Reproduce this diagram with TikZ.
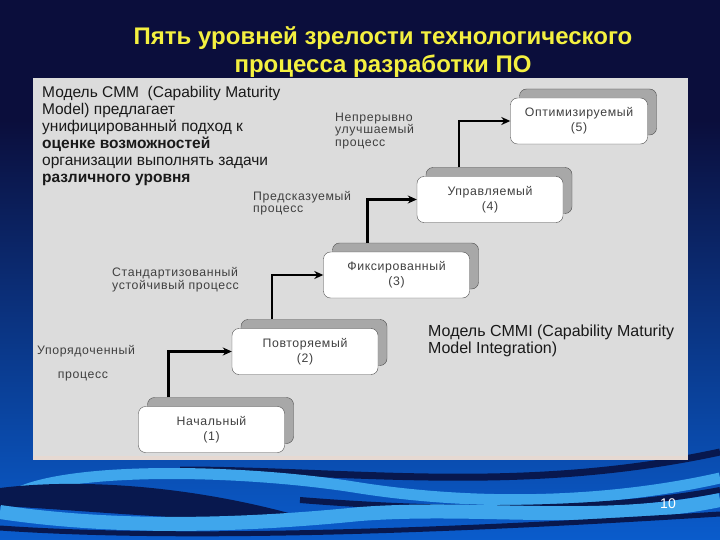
\documentclass[tikz,border=0pt]{standalone}
\usepackage{fontspec}
\setmainfont{Liberation Sans}
\newfontfamily\lblfont[LetterSpace=5]{Liberation Sans}
\usetikzlibrary{arrows.meta,positioning,shadows}
\definecolor{bgnavy}{HTML}{0B0E3C}
\definecolor{bgblue}{HTML}{0A5CCC}
\definecolor{wavelight}{HTML}{3FA6EC}
\definecolor{wavedark}{HTML}{08184E}
\definecolor{panelgrey}{HTML}{DCDCDC}
\definecolor{panelrim}{HTML}{E6D9D2}
\definecolor{titleyellow}{HTML}{F4F040}
\definecolor{cardgrey}{HTML}{A8A8A8}

\begin{document}
\begin{tikzpicture}[x=1pt, y=-1pt, >=Stealth,
  lvl/.style={draw=black!70, fill=white, rounded corners=7pt,
    minimum width=146pt, minimum height=46pt, align=center,
    font=\lblfont\fontsize{12.3}{15}\selectfont, text=black!75,
    copy shadow={shadow xshift=9pt, shadow yshift=9pt, fill=cardgrey, draw=black!70}},
  flow/.style={-{Stealth[length=9pt,width=8pt]}, line width=2.6pt},
  lbl/.style={font=\lblfont\fontsize{12.3}{12.5}\selectfont, text=black!75,
    align=left, inner sep=0pt},
  note/.style={font=\fontsize{15.5}{17}\selectfont, text=black!90,
    align=left, inner sep=0pt}]
\useasboundingbox (0,0) rectangle (720,540);
% backdrop
\fill[bgnavy] (0,0) rectangle (720,540);
\shade[top color=bgnavy, bottom color=bgblue] (0,120) rectangle (720,540);
% waves
\draw[wavedark, line width=7pt] (180,470) .. controls (350,470) and (520,495) .. (720,452);
\draw[wavelight, line width=11pt] (20,492) .. controls (80,466) and (250,470) .. (360,488)
  .. controls (470,505) and (600,505) .. (720,478);
\draw[wavedark, line width=6pt] (300,500) .. controls (450,512) and (600,512) .. (720,490);
\fill[wavedark] (0,488) .. controls (80,478) and (200,485) .. (320,522)
  .. controls (200,522) and (80,510) .. (0,506) -- cycle;
\draw[wavelight, line width=14pt] (0,512) .. controls (120,530) and (250,525) .. (360,514)
  .. controls (480,505) and (600,525) .. (720,500);
\draw[wavedark, line width=5pt] (0,528) .. controls (200,542) and (500,528) .. (720,514);
% grey panel
\fill[panelgrey] (33,78) rectangle (688,460);
\fill[panelrim] (33,456) rectangle (688,460);
% title
\node[font=\bfseries\fontsize{24}{28}\selectfont, text=titleyellow, align=center]
  (title) at (383,52) {Пять уровней зрелости технологического\\процесса разработки ПО};
% texts
\node[note, anchor=north west] (cmm) at (42,86)
  {Модель CMM\ \ (Capability Maturity\\Model) предлагает\\
   унифицированный подход к\\{\bfseries оценке возможностей}\\
   организации выполнять задачи\\{\bfseries различного уровня}};
\node[note, font=\fontsize{16}{17}\selectfont, anchor=north west] (cmmi) at (428,325)
  {Модель CMMI (Capability Maturity\\Model Integration)};
% levels
\node[lvl] (b1) at (211.5,429.5) {Начальный\\(1)};
\node[lvl] (b2) at (305,351.5) {Повторяемый\\(2)};
\node[lvl] (b3) at (396.5,275) {Фиксированный\\(3)};
\node[lvl] (b4) at (490,199.5) {Управляемый\\(4)};
\node[lvl, minimum width=137pt] (b5) at (579,121) {Оптимизируемый\\(5)};
\draw[flow] ([xshift=30pt,yshift=9pt]b1.north west) |- (b2.west);
\draw[flow] ([xshift=40pt,yshift=9pt]b2.north west) |- (b3.west);
\draw[flow] ([xshift=44pt,yshift=9pt]b3.north west) |- (b4.west);
\draw[flow] ([xshift=42pt,yshift=9pt]b4.north west) |- (b5.west);
% step labels
\node[lbl, anchor=west] (l2a) at (37,351) {Упорядоченный};
\node[lbl] (l2b) at (83,376) {процесс};
\node[lbl, anchor=west] (l3) at (112,279.5) {Стандартизованный\\устойчивый процесс};
\node[lbl, anchor=west] (l4) at (253,203) {Предсказуемый\\процесс};
\node[lbl, anchor=west] (l5) at (335,131) {Непрерывно\\улучшаемый\\процесс};
% page number
\node[text=white, font=\fontsize{14}{16}\selectfont] (pg) at (668,504) {10};
\end{tikzpicture}
\end{document}
